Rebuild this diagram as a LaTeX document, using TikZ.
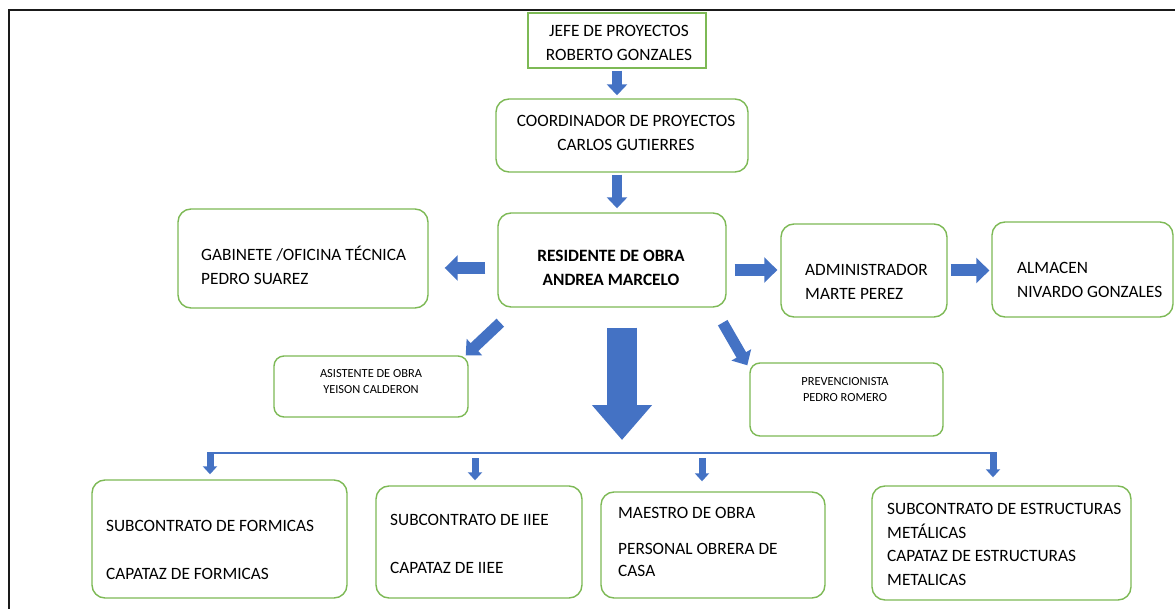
\documentclass[tikz,border=0pt]{standalone}
\usepackage{fontspec}
\setmainfont{Carlito}
\usetikzlibrary{arrows.meta,calc}
\definecolor{boxgreen}{HTML}{7DB955}
\definecolor{arrblue}{HTML}{4472C4}
\definecolor{framec}{HTML}{1A1A1A}
\begin{document}
\begin{tikzpicture}[x=1pt,y=1pt,
  rbox/.style={draw=boxgreen, line width=1.4pt, rounded corners=13pt, fill=white, inner sep=0pt},
  sqbox/.style={draw=boxgreen, line width=1.4pt, fill=white, inner sep=0pt},
  txt/.style={font=\fontsize{17.3}{23.5}\selectfont, inner sep=0pt, align=left, anchor=north west},
  ctxt/.style={font=\fontsize{17.3}{23.5}\selectfont, inner sep=0pt, align=center, anchor=north},
  btxt/.style={font=\fontsize{17.3}{23.5}\selectfont\bfseries, inner sep=0pt, align=center, anchor=north},
  stxt/.style={font=\fontsize{12.4}{16}\selectfont, inner sep=0pt, align=center, anchor=north},
  blk/.style={draw=arrblue, line width=10pt, -{Triangle[width=20pt,length=11pt]}},
  hblk/.style={draw=arrblue, line width=12pt, -{Triangle[width=25pt,length=13pt]}},
  dblk/.style={draw=arrblue, line width=11pt, -{Triangle[width=22pt,length=12pt]}},
  bigblk/.style={draw=arrblue, line width=30pt, -{Triangle[width=58pt,length=35pt]}},
  sblk/.style={draw=arrblue, line width=7pt, -{Triangle[width=14pt,length=8pt]}},
  busline/.style={draw=arrblue, line width=2.5pt},
  framel/.style={draw=framec, line width=2pt}
]
\useasboundingbox (0,0) rectangle (1175,-609);
\draw[framel] (9,-609) -- (9,-10) -- (1175,-10);

% boxes
\node[sqbox, minimum width=178pt, minimum height=55pt] (jefe) at (617,-40.5) {};
\node[rbox, minimum width=252pt, minimum height=73pt] (coord) at (622,-135.5) {};
\node[rbox, minimum width=228pt, minimum height=94pt] (res) at (612,-260) {};
\node[rbox, minimum width=250pt, minimum height=99pt] (gab) at (303,-258.5) {};
\node[rbox, minimum width=166pt, minimum height=93pt] (adm) at (864,-270.5) {};
\node[rbox, minimum width=181pt, minimum height=95pt] (alm) at (1082.5,-269.5) {};
\node[rbox, rounded corners=10pt, minimum width=194pt, minimum height=61pt] (asis) at (371,-386.5) {};
\node[rbox, rounded corners=10pt, minimum width=193pt, minimum height=73pt] (prev) at (846.5,-399.5) {};
\node[rbox, minimum width=255pt, minimum height=118pt] (form) at (219.5,-539) {};
\node[rbox, minimum width=206pt, minimum height=112pt] (iiee) at (479,-542) {};
\node[rbox, minimum width=224pt, minimum height=106pt] (maes) at (713,-545) {};
\node[rbox, minimum width=259pt, minimum height=114pt] (estr) at (1001.5,-543) {};

% texts
\node[ctxt] (jefet) at (619,-20) {\strut JEFE DE PROYECTOS\\ROBERTO GONZALES};
\node[ctxt] (coordt) at (626,-110) {\strut COORDINADOR DE PROYECTOS\\CARLOS GUTIERRES};
\node[btxt] (rest) at (611,-245) {\strut RESIDENTE DE OBRA\\ANDREA MARCELO};
\node[txt] (gabt) at (201,-244) {\strut GABINETE /OFICINA TÉCNICA\\PEDRO SUAREZ};
\node[txt] (admt) at (805,-259) {\strut ADMINISTRADOR\\MARTE PEREZ};
\node[txt] (almt) at (1017,-257) {\strut ALMACEN\\NIVARDO GONZALES};
\node[stxt] (asist) at (371,-366) {\strut ASISTENTE DE OBRA\\YEISON CALDERON};
\node[stxt] (prevt) at (845,-374) {\strut PREVENCIONISTA\\PEDRO ROMERO};
\node[txt] (formt) at (106,-515) {\strut SUBCONTRATO DE FORMICAS\\[24.5pt]CAPATAZ DE FORMICAS};
\node[txt] (iieet) at (390,-509) {\strut SUBCONTRATO DE IIEE\\[24.5pt]CAPATAZ DE IIEE};
\node[txt] (maest) at (618,-502) {\strut MAESTRO DE OBRA\\[12.5pt]PERSONAL OBRERA DE\\[-1.5pt]CASA};
\node[txt] (estrt) at (887,-498) {\strut SUBCONTRATO DE ESTRUCTURAS\\METÁLICAS\\CAPATAZ DE ESTRUCTURAS\\METALICAS};

% arrows
\draw[blk, shorten <=2pt, shorten >=3pt] (jefe.south) -- (jefe.south |- coord.north);
\draw[blk, shorten <=2pt, shorten >=4pt] ([xshift=-5pt]coord.south) -- ([xshift=-5pt]coord.south |- res.north);
\draw[hblk, shorten <=12pt, shorten >=16pt] ([yshift=-8pt]res.west) -- ([yshift=-8pt]res.west -| gab.east);
\draw[hblk, shorten <=8pt, shorten >=3pt] ([yshift=-10pt]res.east) -- ([yshift=-10pt]res.east -| adm.west);
\draw[hblk, shorten <=3pt, shorten >=2pt] (adm.east) -- (adm.east -| alm.west);
\draw[dblk] ([shift={(3,-15)}]res.south west) -- ([shift={(-3,0)}]asis.north east);
\draw[dblk] ([shift={(-4,-15)}]res.south east) -- ([shift={(-2,-3)}]prev.north west);

\coordinate (bigend) at (622,-440);
\draw[bigblk, shorten <=20pt] ([xshift=10pt]res.south) -- (bigend);

\coordinate (busL) at (210,-453);
\coordinate (busR) at (993,-453);
\coordinate (b2) at (475,-453);
\coordinate (b3) at (702,-453);
\draw[busline] (busL) -- (busR);
\draw[sblk] ([yshift=1pt]busL) -- ([yshift=5pt]busL |- form.north);
\draw[sblk] ([yshift=-5pt]b2) -- ([yshift=5pt]b2 |- iiee.north);
\draw[sblk] ([yshift=-5pt]b3) -- ([yshift=10pt]b3 |- maes.north);
\draw[sblk] ([yshift=1pt]busR) -- ([yshift=8pt]busR |- estr.north);
\end{tikzpicture}
\end{document}
